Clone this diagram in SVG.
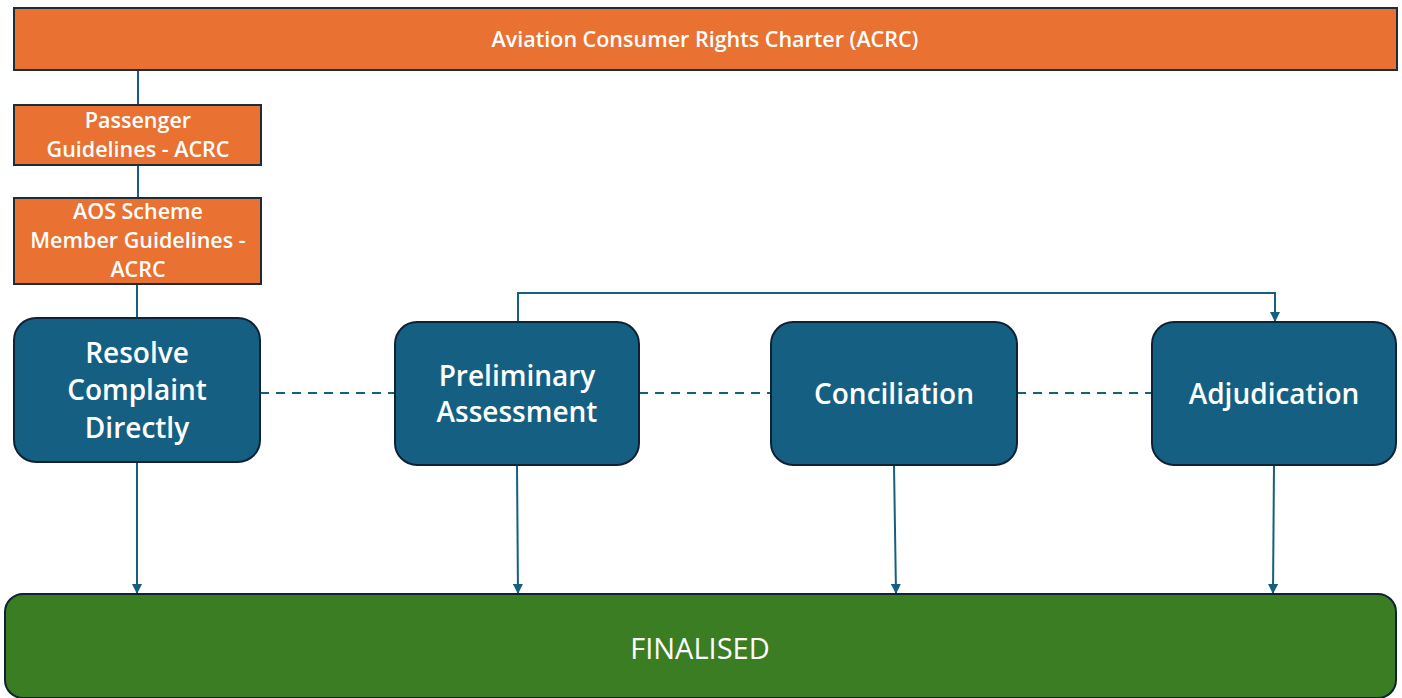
<svg xmlns="http://www.w3.org/2000/svg" width="1402" height="698" viewBox="0 0 1402 698">
  <style>
    .orange { fill: #E97132; stroke: #1B2D3C; stroke-width: 2; }
    .step { fill: #156082; stroke: #0E2233; stroke-width: 2; }
    .done { fill: #3B7D23; stroke: #0E2233; stroke-width: 2; }
    .lbl { font-family: "Open Sans", "Liberation Sans", sans-serif; fill: #FFFFFF; text-anchor: middle; }
    .sm { font-size: 21.5px; font-weight: 600; }
    .big { font-size: 28px; font-weight: 600; }
    .final { font-size: 29px; font-weight: 400; }
    .link { fill: none; stroke: #156082; stroke-width: 2; }
    .dash { stroke-dasharray: 9 7; }
  </style>
  <defs>
    <marker id="arrow" viewBox="0 0 10 10" refX="9" refY="5" markerWidth="5" markerHeight="5" orient="auto" markerUnits="strokeWidth">
      <path d="M0,0 L10,5 L0,10 z" fill="#156082"/>
    </marker>
  </defs>

  <rect width="1402" height="698" fill="#FFFFFF"/>

  <!-- connectors -->
  <g id="connectors">
    <line class="link" x1="138" y1="70" x2="138" y2="105"/>
    <line class="link" x1="138" y1="165" x2="138" y2="198"/>
    <line class="link" x1="137" y1="284" x2="137" y2="318"/>
    <line class="link dash" x1="260" y1="393" x2="395" y2="393"/>
    <line class="link dash" x1="639" y1="393" x2="771" y2="393"/>
    <line class="link dash" x1="1017" y1="393" x2="1152" y2="393"/>
    <polyline class="link" points="518,322 518,293 1275,293 1275,321" marker-end="url(#arrow)"/>
    <line class="link" x1="137" y1="462" x2="137" y2="593" marker-end="url(#arrow)"/>
    <line class="link" x1="517" y1="465" x2="518" y2="593" marker-end="url(#arrow)"/>
    <line class="link" x1="894" y1="465" x2="896" y2="593" marker-end="url(#arrow)"/>
    <line class="link" x1="1274" y1="465" x2="1273" y2="593" marker-end="url(#arrow)"/>
  </g>

  <!-- charter -->
  <g id="charter">
    <rect class="orange" x="14" y="8" width="1383" height="62"/>
    <text class="lbl sm" x="705" y="47">Aviation Consumer Rights Charter (ACRC)</text>
  </g>

  <g id="passenger-guidelines">
    <rect class="orange" x="14" y="105" width="247" height="60"/>
    <text class="lbl sm" x="138" y="128">Passenger</text>
    <text class="lbl sm" x="138" y="157">Guidelines - ACRC</text>
  </g>

  <g id="member-guidelines">
    <rect class="orange" x="14" y="198" width="247" height="86"/>
    <text class="lbl sm" x="138" y="219">AOS Scheme</text>
    <text class="lbl sm" x="138" y="248">Member Guidelines -</text>
    <text class="lbl sm" x="138" y="277">ACRC</text>
  </g>

  <!-- process steps -->
  <g id="resolve">
    <rect class="step" x="14" y="318" width="246" height="144" rx="22"/>
    <text class="lbl big" x="137" y="363">Resolve</text>
    <text class="lbl big" x="137" y="400">Complaint</text>
    <text class="lbl big" x="137" y="438">Directly</text>
  </g>

  <g id="preliminary">
    <rect class="step" x="395" y="322" width="244" height="143" rx="22"/>
    <text class="lbl big" x="517" y="386">Preliminary</text>
    <text class="lbl big" x="517" y="422">Assessment</text>
  </g>

  <g id="conciliation">
    <rect class="step" x="771" y="322" width="246" height="143" rx="22"/>
    <text class="lbl big" x="894" y="404">Conciliation</text>
  </g>

  <g id="adjudication">
    <rect class="step" x="1152" y="322" width="244" height="143" rx="22"/>
    <text class="lbl big" x="1274" y="404">Adjudication</text>
  </g>

  <!-- outcome -->
  <g id="finalised">
    <rect class="done" x="5" y="594" width="1391" height="104" rx="18"/>
    <text class="lbl final" x="700" y="659">FINALISED</text>
  </g>
</svg>
